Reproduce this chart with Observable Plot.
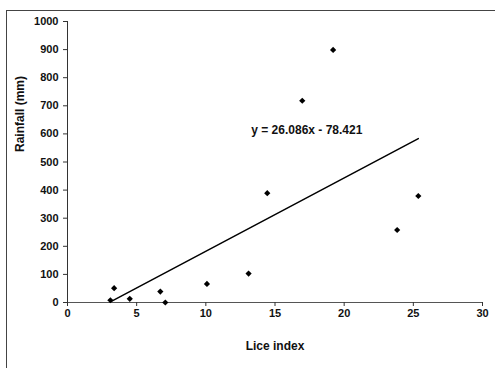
<!DOCTYPE html>
<html>
<head>
<meta charset="utf-8">
<script src="https://cdn.jsdelivr.net/npm/d3@7"></script>
<script src="https://cdn.jsdelivr.net/npm/@observablehq/plot@0.6"></script>
<style>
  html, body { margin: 0; padding: 0; background: #fff; }
  #wrap { position: relative; width: 495px; height: 368px; overflow: hidden; }
  #frame { position: absolute; left: 6px; top: 10px; width: 600px; height: 500px;
           border-left: 1.5px solid #444; border-top: 1.5px solid #444; box-sizing: border-box; }
  #chart { position: absolute; left: 0; top: 0; }
</style>
</head>
<body>
<div id="wrap"><div id="frame"></div><div id="chart"></div></div>
<script>
// Data
const liceIndex = [3.10, 3.37, 4.50, 6.71, 7.07, 10.08, 13.09, 14.44, 16.97, 19.20, 23.83, 25.36];
const rainfall  = [8, 51, 13, 39, 0, 66, 103, 389, 718, 899, 258, 379];
const xTicks = [0, 5, 10, 15, 20, 25, 30];
const yTicks = [0, 100, 200, 300, 400, 500, 600, 700, 800, 900, 1000];
const slope = 26.086, intercept = -78.421;
const equationText = "y = 26.086x - 78.421";
const equationAt = {x: 17.3, y: 612};

const points = liceIndex.map((x, i) => ({x, y: rainfall[i]}));
const xMin = d3.min(liceIndex), xMax = d3.max(liceIndex);
const trend = [xMin, xMax].map(x => ({x, y: slope * x + intercept}));

const font = "'Liberation Sans', Arial, Helvetica, sans-serif";
const chart = Plot.plot({
  width: 495, height: 368,
  marginLeft: 67, marginRight: 13, marginTop: 21, marginBottom: 66,
  x: {domain: [0, 30]},
  y: {domain: [0, 1000]},
  style: {fontFamily: font, fontSize: "11px", fontWeight: "bold", color: "#111", background: "transparent"},
  marks: [
    Plot.ruleX([0], {stroke: "#333", strokeWidth: 1}),
    Plot.ruleY([0], {stroke: "#555", strokeWidth: 1}),
    Plot.axisX({ticks: xTicks, tickFormat: d => String(d), tickSize: 4, tickPadding: 3, label: null, stroke: "#333", fill: "#111"}),
    Plot.axisY({ticks: yTicks, tickFormat: d => String(d), tickSize: 4, tickPadding: 5, label: null, stroke: "#333", fill: "#111"}),
    Plot.line(trend, {x: "x", y: "y", stroke: "#000", strokeWidth: 1.5}),
    Plot.dot(points, {x: "x", y: "y", symbol: "diamond2", r: 2.8, fill: "#000", stroke: "none"}),
    Plot.text([equationText], {x: () => equationAt.x, y: () => equationAt.y, text: d => d, fontSize: 12, fontWeight: "bold", fill: "#111"}),
    Plot.text(["Lice index"], {frameAnchor: "bottom", dy: 47, fontSize: 12, fontWeight: "bold", fill: "#111"}),
    Plot.text(["Rainfall (mm)"], {frameAnchor: "left", rotate: -90, dx: -47, dy: -10, fontSize: 12, fontWeight: "bold", fill: "#111"})
  ]
});
document.getElementById("chart").appendChild(chart);
</script>
</body>
</html>
